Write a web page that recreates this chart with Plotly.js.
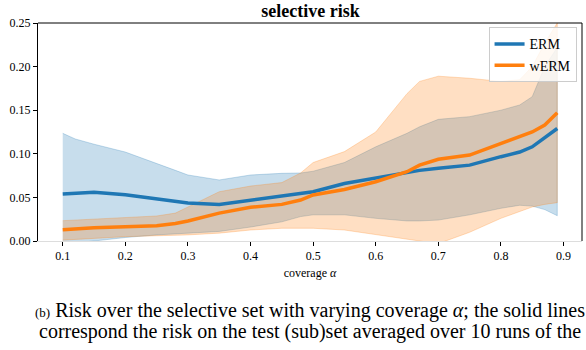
<!DOCTYPE html>
<html>
<head>
<meta charset="utf-8">
<script src="https://cdn.plot.ly/plotly-3.0.1.min.js"></script>
<style>
  body { margin: 0; background: #fff; }
  #chart { width: 586px; height: 350px; }
</style>
</head>
<body>
<div id="chart"></div>
<script>
// coverage values along the x axis
const coverage = [0.1, 0.12, 0.15, 0.2, 0.25, 0.28, 0.3, 0.35, 0.4, 0.45, 0.48, 0.5, 0.55, 0.6, 0.65, 0.67, 0.7, 0.75, 0.8, 0.83, 0.85, 0.87, 0.89];

// ERM: mean risk and band
const ermMean  = [0.054, 0.055, 0.056, 0.053, 0.048, 0.045, 0.0436, 0.042, 0.047, 0.051, 0.054, 0.0565, 0.066, 0.072, 0.078, 0.081, 0.0835, 0.087, 0.0967, 0.102, 0.108, 0.118, 0.129];
const ermUpper = [0.1235, 0.117, 0.111, 0.102, 0.089, 0.081, 0.0757, 0.070, 0.0757, 0.0776, 0.078, 0.080, 0.090, 0.108, 0.1235, 0.131, 0.1395, 0.1426, 0.150, 0.156, 0.1655, 0.20, 0.222];
const ermLower = [-0.004, -0.002, 0.0, 0.004, 0.007, 0.008, 0.009, 0.011, 0.016, 0.022, 0.028, 0.030, 0.030, 0.026, 0.023, 0.023, 0.024, 0.030, 0.0375, 0.041, 0.040, 0.036, 0.029];

// wERM: mean risk and band
const wermMean  = [0.013, 0.014, 0.0153, 0.0164, 0.0176, 0.020, 0.023, 0.032, 0.0386, 0.042, 0.047, 0.0528, 0.059, 0.068, 0.0795, 0.087, 0.0937, 0.0986, 0.112, 0.120, 0.125, 0.133, 0.147];
const wermUpper = [0.0233, 0.024, 0.025, 0.027, 0.0287, 0.032, 0.039, 0.0565, 0.063, 0.067, 0.078, 0.090, 0.1025, 0.125, 0.169, 0.183, 0.189, 0.1866, 0.183, 0.185, 0.20, 0.227, 0.25];
const wermLower = [0.001, 0.002, 0.003, 0.005, 0.006, 0.007, 0.007, 0.009, 0.0126, 0.0146, 0.015, 0.0146, 0.0126, 0.007, 0.002, 0.0, -0.003, 0.010, 0.026, 0.034, 0.039, 0.042, 0.044];

const xTicks = [0.1, 0.2, 0.3, 0.4, 0.5, 0.6, 0.7, 0.8, 0.9];
const yTicks = [0, 0.05, 0.1, 0.15, 0.2, 0.25];

function band(lower, upper, fillColor) {
  return {
    x: coverage.concat(coverage.slice().reverse()),
    y: lower.concat(upper.slice().reverse()),
    type: 'scatter',
    mode: 'lines',
    fill: 'toself',
    fillcolor: fillColor,
    line: { color: fillColor, width: 1 },
    hoverinfo: 'skip',
    showlegend: false
  };
}

const traces = [
  band(ermLower, ermUpper, 'rgba(31,119,180,0.25)'),
  band(wermLower, wermUpper, 'rgba(255,127,14,0.25)'),
  {
    x: coverage, y: ermMean, name: 'ERM', type: 'scatter', mode: 'lines',
    line: { color: '#1f77b4', width: 3.5 }
  },
  {
    x: coverage, y: wermMean, name: 'wERM', type: 'scatter', mode: 'lines',
    line: { color: '#ff7f0e', width: 3.5 }
  }
];

const serif = 'Liberation Serif';

const layout = {
  width: 586,
  height: 350,
  margin: { l: 38, r: 4, t: 23, b: 109 },
  paper_bgcolor: '#fff',
  plot_bgcolor: '#fff',
  font: { family: serif, size: 11, color: '#000' },
  title: {
    text: '<b>selective risk</b>',
    font: { family: serif, size: 18, color: '#000' },
    x: 0.53, xanchor: 'center', y: 0.97, yanchor: 'middle'
  },
  xaxis: {
    range: [0.0605, 0.9295],
    tickvals: xTicks,
    ticktext: xTicks.map(v => v.toFixed(1)),
    ticks: 'outside', ticklen: 4, tickcolor: '#000',
    showgrid: false, zeroline: false,
    showline: true, linecolor: '#ddd', linewidth: 1, mirror: false,
    tickfont: { family: serif, size: 12 },
    title: { text: 'coverage <i>α</i>', font: { family: serif, size: 12 }, standoff: 6 }
  },
  yaxis: {
    range: [0, 0.25],
    tickvals: yTicks,
    ticktext: yTicks.map(v => v.toFixed(2)),
    ticks: 'outside', ticklen: 4, tickcolor: '#000',
    showgrid: false, zeroline: false,
    showline: true, linecolor: '#000', linewidth: 1, mirror: false,
    tickfont: { family: serif, size: 12 }
  },
  shapes: [
    // top and right spines
    { type: 'line', xref: 'paper', yref: 'paper', x0: 0, x1: 1, y0: 1, y1: 1, line: { color: '#000', width: 1 } },
    { type: 'line', xref: 'paper', yref: 'paper', x0: 1, x1: 1, y0: 0, y1: 1, line: { color: '#000', width: 1 } }
  ],
  legend: {
    x: 0.99, xanchor: 'right', y: 0.98, yanchor: 'top',
    bgcolor: 'rgba(255,255,255,0.8)', bordercolor: '#ccc', borderwidth: 1,
    font: { family: serif, size: 14 },
    tracegroupgap: 2
  },
  annotations: [
    {
      xref: 'paper', yref: 'paper', x: 0.5, y: -0.32, xanchor: 'center', yanchor: 'middle',
      showarrow: false, align: 'left',
      text: '<span style="font-size:13px">(b)</span> Risk over the selective set with varying coverage <i>α</i>; the solid lines',
      font: { family: serif, size: 20, color: '#000' }
    },
    {
      xref: 'paper', yref: 'paper', x: 0.5, y: -0.415, xanchor: 'center', yanchor: 'middle',
      showarrow: false, align: 'left',
      text: 'correspond the risk on the test (sub)set averaged over 10 runs of the',
      font: { family: serif, size: 20, color: '#000' }
    }
  ]
};

Plotly.newPlot('chart', traces, layout, { displayModeBar: false });
</script>
</body>
</html>
